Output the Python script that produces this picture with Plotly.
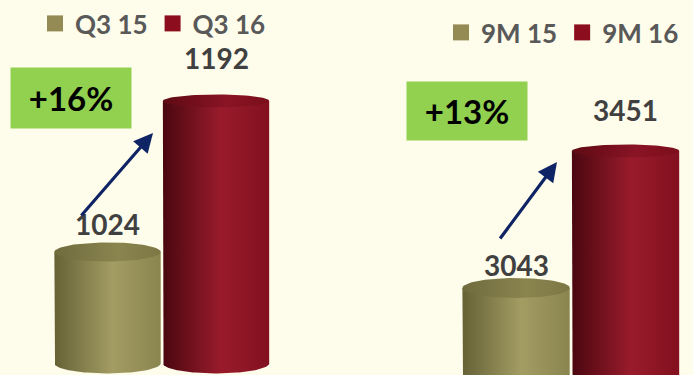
import numpy as np
import plotly.graph_objects as go

# ---------------- data ----------------
left_periods = ["Q3 15", "Q3 16"]
left_values = [1024, 1192]
right_periods = ["9M 15", "9M 16"]
right_values = [3043, 3451]
growth_labels = ["+16%", "+13%"]

# ---------------- style ----------------
W, H = 693, 375
BG = "#FEFCEA"
OLIVE = dict(body=[[0, "#666236"], [0.55, "#A39C63"], [1, "#8A844F"]],
             top=[[0, "#6F6B3D"], [0.6, "#8A854F"], [1, "#7C7744"]],
             legend="#948A54")
RED = dict(body=[[0, "#4A0710"], [0.55, "#991B2B"], [1, "#82101E"]],
           top=[[0, "#5E0A14"], [0.6, "#8A1424"], [1, "#7A0E1B"]],
           legend="#8B0D1E")
series_styles = [OLIVE, RED]

# axis layouts (decorative geometry)
left_xrange = [-0.991, 2.198]
right_xrange = [-1.553, 1.616]
left_yrange = [887.1, 1304.3]
right_yrange = [2783.8, 3900.5]
left_base = 900
right_base = 2754
half_w = 0.49
split = 346 / W

fig = go.Figure()


def add_cylinders(values, xref, yref, yrange, base, top_px_list):
    ppu = H / (yrange[1] - yrange[0])  # pixels per data unit
    for i, v in enumerate(values):
        st = series_styles[i]
        b_bot = 10 / ppu
        b_top = top_px_list[i] / ppu
        th = np.linspace(np.pi, 2 * np.pi, 60)
        xs = np.concatenate([[i - half_w], i + half_w * np.cos(th), [i + half_w, i - half_w]])
        ys = np.concatenate([[v], base + b_bot * np.sin(th), [v, v]])
        fig.add_trace(go.Scatter(
            x=xs, y=ys, xaxis=xref, yaxis=yref, mode="lines", fill="toself",
            line=dict(width=0), fillgradient=dict(type="horizontal", colorscale=st["body"]),
            hoverinfo="skip", showlegend=False))
        th2 = np.linspace(0, 2 * np.pi, 90)
        fig.add_trace(go.Scatter(
            x=i + half_w * np.cos(th2), y=v + b_top * np.sin(th2), xaxis=xref, yaxis=yref,
            mode="lines", fill="toself", line=dict(width=0),
            fillgradient=dict(type="horizontal", colorscale=st["top"]),
            hoverinfo="skip", showlegend=False))


add_cylinders(left_values, "x", "y", left_yrange, left_base, [9.5, 6.5])
add_cylinders(right_values, "x2", "y2", right_yrange, right_base, [10, 6.5])

# legend entries
for i, name in enumerate(left_periods):
    fig.add_trace(go.Scatter(x=[None], y=[None], mode="markers", name=name,
                             marker=dict(symbol="square", size=20, color=series_styles[i]["legend"]),
                             legend="legend"))
for i, name in enumerate(right_periods):
    fig.add_trace(go.Scatter(x=[None], y=[None], mode="markers", name=name,
                             marker=dict(symbol="square", size=20, color=series_styles[i]["legend"]),
                             legend="legend2", xaxis="x2", yaxis="y2"))

legend_font = dict(family="Lato", size=26, color="#595959", weight="bold")

annotations = []
# value labels
label_shift_left = [28, 43]
label_shift_right = [23, 41]
label_font = dict(family="Lato", size=28, color="#404040", weight="bold")
for i, v in enumerate(left_values):
    annotations.append(dict(x=i, y=v, xref="x", yref="y", text=f"{v}", showarrow=False,
                            yshift=label_shift_left[i], font=label_font))
for i, v in enumerate(right_values):
    annotations.append(dict(x=i, y=v, xref="x2", yref="y2", text=f"{v}", showarrow=False,
                            yshift=label_shift_right[i], font=label_font))

# growth boxes
box_pos = [(71 / W, 1 - 97.5 / H, 60), (466.5 / W, 1 - 111 / H, 58)]
for (bx, by, bh), g in zip(box_pos, growth_labels):
    annotations.append(dict(x=bx, y=by, xref="paper", yref="paper", text=g, showarrow=False,
                            bgcolor="#92D050", width=120, height=bh, borderpad=0,
                            font=dict(family="Lato", size=33, color="#000000", weight="bold"),
                            xanchor="center", yanchor="middle"))

# arrows
arrows = [((153, 133), (80, 217)), ((557, 162), (499, 240))]
for (hx, hy), (tx, ty) in arrows:
    annotations.append(dict(x=hx / W, y=1 - hy / H, xref="paper", yref="paper", text="",
                            showarrow=True, ax=tx - hx, ay=ty - hy, arrowhead=2, arrowsize=1.2,
                            arrowwidth=3.2, arrowcolor="#0E2464", standoff=0, startstandoff=0))

fig.update_layout(
    width=W, height=H, margin=dict(l=0, r=0, t=0, b=0),
    paper_bgcolor=BG, plot_bgcolor=BG,
    xaxis=dict(domain=[0, split], range=left_xrange, visible=False, fixedrange=True),
    yaxis=dict(domain=[0, 1], range=left_yrange, visible=False, fixedrange=True),
    xaxis2=dict(domain=[split, 1], range=right_xrange, visible=False, anchor="y2", fixedrange=True),
    yaxis2=dict(domain=[0, 1], range=right_yrange, visible=False, anchor="x2", fixedrange=True),
    legend=dict(orientation="h", x=35 / W, y=1, xanchor="left", yanchor="top",
                font=legend_font, bgcolor="rgba(0,0,0,0)", itemwidth=30, tracegroupgap=0),
    legend2=dict(orientation="h", x=441 / W, y=1 - 9 / H, xanchor="left", yanchor="top",
                 font=legend_font, bgcolor="rgba(0,0,0,0)", itemwidth=30, tracegroupgap=0),
    annotations=annotations,
    showlegend=True,
)

fig.write_html("out.html")
